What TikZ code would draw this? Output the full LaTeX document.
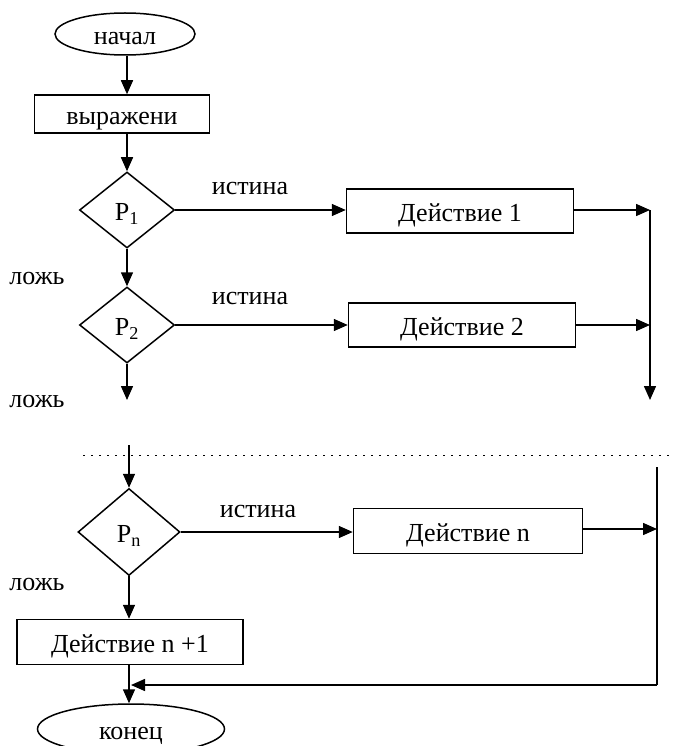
\documentclass[tikz,border=0pt]{standalone}
\usepackage{fontspec}
\setmainfont{Liberation Serif}
\usetikzlibrary{shapes.geometric,arrows.meta}
\tikzset{
	txt/.style={font=\fontsize{26}{30}\selectfont},
	inbox/.style={txt,text height=21pt,text depth=0pt,line width=1.5pt,inner sep=0pt,draw},
	term/.style={inbox,ellipse},
	actbox/.style={inbox,rectangle},
	cond/.style={inbox,diamond},
	flow/.style={line width=1.5pt,-{Triangle[length=14pt,width=12pt]}},
	wire/.style={line width=1.5pt}
}
\begin{document}
\begin{tikzpicture}[x=1pt,y=-1pt]
	\useasboundingbox (0,0) rectangle (674,746);
	% blocks
	\node[term,minimum width=140pt,minimum height=42pt] (start) at (125,34) {начал};
	\node[actbox,minimum width=175pt,minimum height=38pt] (expr) at (122,114) {выражени};
	\node[cond,minimum width=95pt,minimum height=76pt] (p1) at (127,210) {P\textsubscript{1}};
	\node[cond,minimum width=95pt,minimum height=76pt] (p2) at (127,325) {P\textsubscript{2}};
	\node[cond,minimum width=102pt,minimum height=87pt] (pn) at (129,532) {P\textsubscript{n}};
	\node[actbox,minimum width=227pt,minimum height=44pt] (act1) at (460,211) {Действие 1};
	\node[actbox,minimum width=227pt,minimum height=44pt] (act2) at (462,325) {Действие 2};
	\node[actbox,minimum width=229pt,minimum height=45pt] (actn) at (468,531) {Действие n};
	\node[actbox,minimum width=226pt,minimum height=45pt] (actlast) at (130,642) {Действие n +1};
	\node[term,minimum width=187pt,minimum height=50pt] (stop) at (131,729) {конец};
	% labels
	\node[txt] (t1) at (250,189) {истина};
	\node[txt] (t2) at (250,298) {истина};
	\node[txt] (tn) at (258,511) {истина};
	\node[txt] (f1) at (37,279) {ложь};
	\node[txt] (f2) at (37,401) {ложь};
	\node[txt] (fn) at (37,584) {ложь};
	% points
	\coordinate (j1) at (650,210);
	\coordinate (j2) at (650,325);
	\coordinate (jend) at (650,400);
	\coordinate (p2out) at (127,400);
	\coordinate (pnin) at (129,445);
	\coordinate (rtop) at (657,467);
	\coordinate (jn) at (657,529);
	\coordinate (rbot) at (657,685);
	\coordinate (back) at (131,685);
	% connectors
	\draw[flow] (start.south -| p1.north) -- (expr.north -| p1.north);
	\draw[flow] (expr.south -| p1.north) -- (p1.north);
	\draw[flow] (p1.east) -- (act1.west |- p1.east);
	\draw[flow] (p1.south) -- (p2.north);
	\draw[flow] (p2.east) -- (act2.west |- p2.east);
	\draw[flow] (p2.south) -- (p2out);
	\draw[flow] (act1.east |- j1) -- (j1);
	\draw[flow] (act2.east |- j2) -- (j2);
	\draw[flow] (j1) -- (jend);
	\draw[line width=1pt,dash pattern=on 1.5pt off 6.5pt] (83,455) -- (674,455);
	\draw[flow] (pnin) -- (pn.north);
	\draw[flow] (pn.east) -- (actn.west |- pn.east);
	\draw[flow] (actn.east |- jn) -- (jn);
	\draw[wire] (rtop) -- (rbot);
	\draw[flow] (rbot) -- (back);
	\draw[flow] (pn.south) -- (actlast.north -| pn.south);
	\draw[flow] (actlast.south -| pn.south) -- (stop.north -| pn.south);
\end{tikzpicture}
\end{document}
